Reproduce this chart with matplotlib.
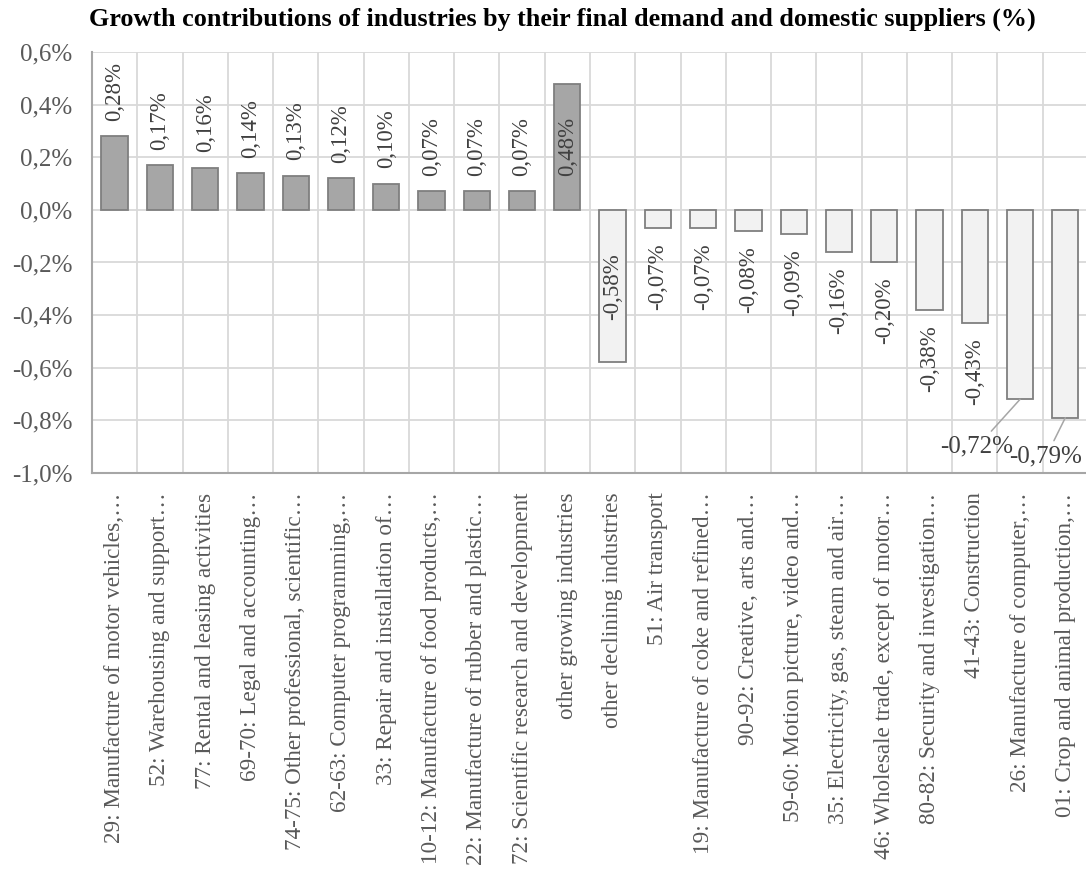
import numpy as np
import matplotlib
matplotlib.use("Agg")
import matplotlib.pyplot as plt
from matplotlib.ticker import FuncFormatter, FixedLocator

categories = [
    "29: Manufacture of motor vehicles,…",
    "52: Warehousing and support…",
    "77: Rental and leasing activities",
    "69-70: Legal and accounting…",
    "74-75: Other professional, scientific…",
    "62-63: Computer programming,…",
    "33: Repair and installation of…",
    "10-12: Manufacture of food products,…",
    "22: Manufacture of rubber and plastic…",
    "72: Scientific research and development",
    "other growing industries",
    "other declining industries",
    "51: Air transport",
    "19: Manufacture of coke and refined…",
    "90-92: Creative, arts and…",
    "59-60: Motion picture, video and…",
    "35: Electricity, gas, steam and air…",
    "46: Wholesale trade, except of motor…",
    "80-82: Security and investigation…",
    "41-43: Construction",
    "26: Manufacture of computer,…",
    "01: Crop and animal production,…",
]
values = [0.28, 0.17, 0.16, 0.14, 0.13, 0.12, 0.10, 0.07, 0.07, 0.07, 0.48,
          -0.58, -0.07, -0.07, -0.08, -0.09, -0.16, -0.20, -0.38, -0.43, -0.72, -0.79]
yticks = [-1.0, -0.8, -0.6, -0.4, -0.2, 0.0, 0.2, 0.4, 0.6]

plt.rcParams['font.family'] = ['Liberation Serif', 'DejaVu Serif']
txt = '#595959'
lab = '#404040'
grid = '#d9d9d9'

fig = plt.figure(figsize=(10.86, 8.96), dpi=100)
ax = fig.add_axes([0.0847, 0.4721, 0.9171, 0.4699])

x = np.arange(len(values))
colors = ['#a6a6a6' if v > 0 else '#f2f2f2' for v in values]
ax.bar(x, values, width=0.58, color=colors, edgecolor='#7f7f7f', linewidth=1.3, zorder=3)

def fmt(v):
    return ('%.2f' % v).replace('.', ',') + '%'

# the two longest bars carry horizontal labels with leader lines
callouts = {20: (19.05, -0.901), 21: (20.57, -0.939)}

for i, v in enumerate(values):
    if categories[i].startswith('other'):
        ax.text(i, v / 2, fmt(v), rotation=90, ha='center', va='center',
                fontsize=16.5, color=lab, zorder=4)
    elif i in callouts:
        ax.annotate(fmt(v), xy=(i, v), xytext=callouts[i], ha='center', va='center',
                    fontsize=18, color=lab, zorder=4, annotation_clip=False,
                    arrowprops=dict(arrowstyle='-', color='#a6a6a6', lw=1.1,
                                    shrinkA=2, shrinkB=0))
    elif v > 0:
        ax.annotate(fmt(v), xy=(i, v), xytext=(0, 11), textcoords='offset points',
                    rotation=90, ha='center', va='bottom', fontsize=16.5, color=lab,
                    annotation_clip=False, zorder=4)
    else:
        ax.annotate(fmt(v), xy=(i, v), xytext=(0, -11), textcoords='offset points',
                    rotation=90, ha='center', va='top', fontsize=16.5, color=lab, zorder=4)

ax.set_xlim(-0.5, len(values) - 0.5)
ax.set_ylim(-1.0, 0.6)
ax.set_yticks(yticks)
ax.yaxis.set_major_formatter(FuncFormatter(lambda v, p: ('%.1f' % v).replace('.', ',') + '%'))
ax.set_xticks(x)
ax.set_xticklabels(categories, rotation=90, fontsize=16.7)
ax.xaxis.set_minor_locator(FixedLocator(np.arange(-0.5, len(values), 1.0)))
ax.tick_params(axis='both', which='both', length=0, colors=txt)
ax.tick_params(axis='y', labelsize=18, pad=14)
ax.tick_params(axis='x', pad=14)
ax.grid(True, axis='y', color=grid, lw=1.3, zorder=0)
ax.grid(True, axis='x', which='minor', color=grid, lw=1.3, zorder=0)
ax.grid(False, axis='x', which='major')
for s in ['top', 'right']:
    ax.spines[s].set_visible(False)
for s in ['left', 'bottom']:
    ax.spines[s].set_color('#a6a6a6')
    ax.spines[s].set_linewidth(1.5)

fig.text(0.518, 0.979, 'Growth contributions of industries by their final demand and domestic suppliers (%)',
         ha='center', va='center', fontsize=18.8, fontweight='bold', color='black')

fig.savefig('out.png', dpi=100)
